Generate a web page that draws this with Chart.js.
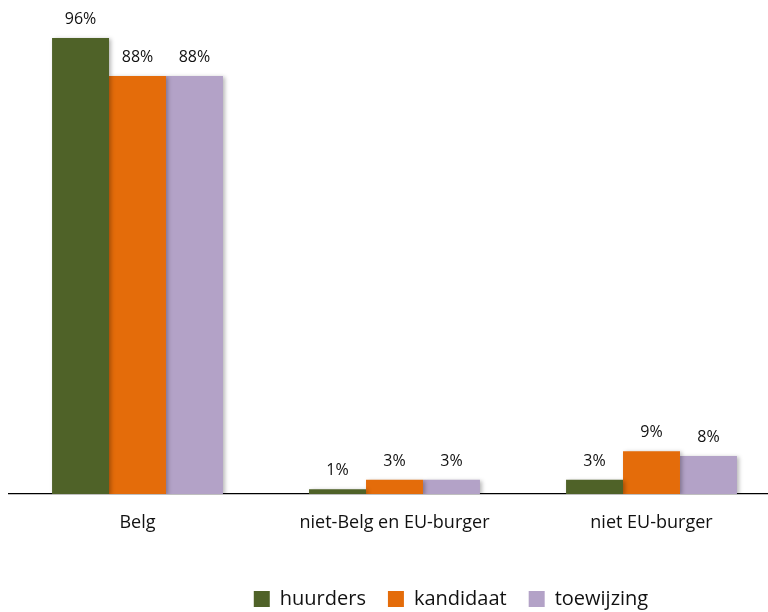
<!DOCTYPE html>
<html>
<head>
<meta charset="utf-8">
<script src="https://cdn.jsdelivr.net/npm/chart.js@4.4.1/dist/chart.umd.min.js"></script>
<style>
  html, body { margin: 0; padding: 0; background: #fff; overflow: hidden; }
  #wrap { position: relative; width: 902px; height: 612px; }
</style>
</head>
<body>
<div id="wrap"><canvas id="myChart"></canvas></div>
<script>
const categories = ["Belg", "niet-Belg en EU-burger", "niet EU-burger"];
const seriesNames = ["huurders", "kandidaat", "toewijzing"];
const huurders = [96, 1, 3];
const kandidaat = [88, 3, 9];
const toewijzing = [88, 3, 8];
const colors = ["#4F6228", "#E46C0A", "#B3A2C7"];

const FONT = "'Open Sans', 'Liberation Sans', sans-serif";

// soft drop shadow behind the bars
const barShadow = {
  id: "barShadow",
  beforeDatasetsDraw(chart) {
    const c = chart.ctx;
    c.save();
    c.shadowColor = "rgba(0,0,0,0.28)";
    c.shadowBlur = 4;
    c.shadowOffsetX = 2;
    c.shadowOffsetY = 1;
  },
  afterDatasetsDraw(chart) {
    chart.ctx.restore();
  }
};

// percentage above each bar
const valueLabels = {
  id: "valueLabels",
  afterDatasetsDraw(chart) {
    const c = chart.ctx;
    c.save();
    c.font = "16px " + FONT;
    c.fillStyle = "#111";
    c.textAlign = "center";
    c.textBaseline = "alphabetic";
    chart.data.datasets.forEach((ds, i) => {
      chart.getDatasetMeta(i).data.forEach((bar, j) => {
        c.fillText(ds.data[j] + "%", bar.x, bar.y - 14);
      });
    });
    c.restore();
  }
};

const ctx = document.getElementById("myChart").getContext("2d");
new Chart(ctx, {
  type: "bar",
  data: {
    labels: categories,
    datasets: [
      { label: seriesNames[0], data: huurders, backgroundColor: colors[0] },
      { label: seriesNames[1], data: kandidaat, backgroundColor: colors[1] },
      { label: seriesNames[2], data: toewijzing, backgroundColor: colors[2] }
    ]
  },
  options: {
    responsive: true,
    maintainAspectRatio: false,
    animation: false,
    layout: { padding: { top: 19, bottom: -7 } },
    datasets: {
      bar: { categoryPercentage: 0.665, barPercentage: 1, borderWidth: 0 }
    },
    scales: {
      x: {
        grid: { display: false },
        border: { display: true, color: "#000", width: 1.3 },
        ticks: { color: "#111", font: { family: FONT, size: 18 }, padding: 10 },
        afterFit(scale) { scale.height = 73; }
      },
      y: {
        min: 0,
        max: 100,
        grid: { display: false },
        border: { display: false },
        ticks: { display: false },
        afterFit(scale) { scale.width = 9; }
      },
      yRight: {
        position: "right",
        grid: { display: false },
        border: { display: false },
        ticks: { display: false },
        afterFit(scale) { scale.width = 122; }
      }
    },
    plugins: {
      legend: {
        position: "bottom",
        labels: {
          boxWidth: 16,
          boxHeight: 16,
          padding: 22,
          color: "#111",
          font: { family: FONT, size: 20 }
        }
      },
      tooltip: { enabled: false }
    }
  },
  plugins: [barShadow, valueLabels]
});
</script>
</body>
</html>
